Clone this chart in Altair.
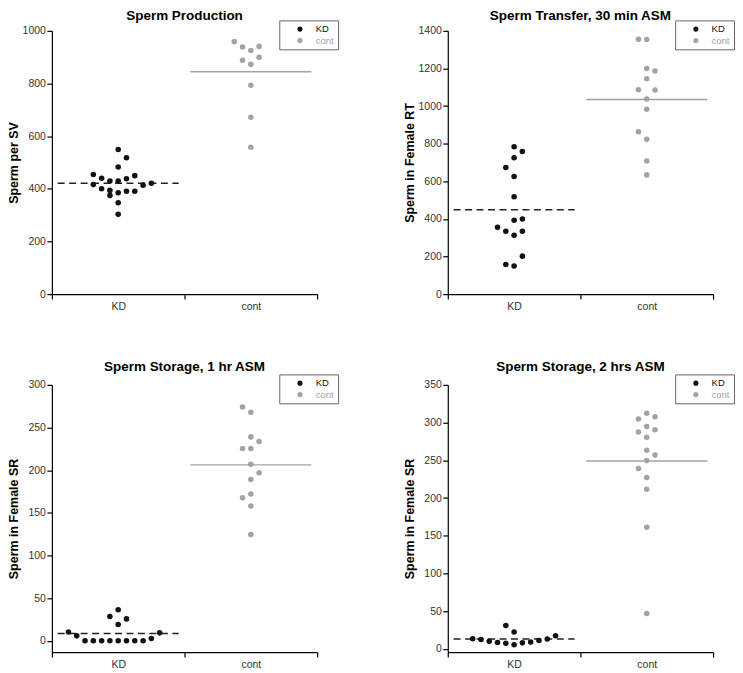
import altair as alt
import pandas as pd

FONT = "Liberation Sans"
GROUPS = ["KD", "cont"]
COLORS = ["#111111", "#a3a3a3"]

# Panel 1: Sperm Production (slot = horizontal dot position in the scatter column)
p1_kd_slot = [0, 1, 0, -3, 2, -2, -1, 0, 1, -3, 3, 4, -2, -1, -1, 0, 1, 2, 0, 0]
p1_kd_val = [549, 518, 483, 454, 450, 440, 430, 430, 438, 416, 414, 421, 400, 394, 375, 385, 391, 391, 347, 303]
p1_ct_slot = [-2, -1, 0, 1, -1, 0, 1, 0, 0, 0]
p1_ct_val = [959, 939, 925, 941, 888, 873, 900, 793, 672, 558]

# Panel 2: Sperm Transfer, 30 min ASM
p2_kd_slot = [0, 1, 0, -1, 0, 0, 0, 1, -2, -1, 0, 1, 1, -1, 0]
p2_kd_val = [784, 758, 725, 673, 625, 518, 393, 400, 355, 334, 313, 334, 202, 158, 150]
p2_ct_slot = [-1, 0, 0, 1, 0, -1, 1, 0, 0, -1, 0, 0, 0]
p2_ct_val = [1355, 1354, 1200, 1187, 1145, 1087, 1085, 1038, 983, 863, 823, 708, 634]

# Panel 3: Sperm Storage, 1 hr ASM
p3_kd_slot = [-6, -5, -4, -3, -2, -1, 0, 1, 2, 3, 4, 5, -1, 0, 1, 0]
p3_kd_val = [10.3, 5.7, 0, 0, 0, 0, 0, 0, 0, 0, 2.7, 9.2, 28.3, 36.3, 25.6, 19.1]
p3_ct_slot = [-1, 0, 0, 1, -1, 0, 0, 1, 0, 0, -1, 0, 0]
p3_ct_val = [274, 268, 239, 233.5, 225.5, 225.5, 207, 197, 189, 172, 167.5, 158, 124.5]

# Panel 4: Sperm Storage, 2 hrs ASM
p4_kd_slot = [-5, -4, -3, -2, -1, 0, 1, 2, 3, 4, 5, -1, 0]
p4_kd_val = [13.5, 12.5, 10, 8.5, 7.5, 5.6, 8, 9, 11, 13.2, 17.3, 31, 22.5]
p4_ct_slot = [0, -1, 1, 0, -1, 1, 0, 0, 1, 0, -1, 0, 0, 0, 0]
p4_ct_val = [312.5, 304.7, 307.8, 294.8, 287.5, 290.5, 280.6, 263.4, 256.9, 249.6, 239.2, 227.2, 211.6, 161.2, 47]

TITLES = ["Sperm Production", "Sperm Transfer, 30 min ASM",
          "Sperm Storage, 1 hr ASM", "Sperm Storage, 2 hrs ASM"]
YTITLES = ["Sperm per SV", "Sperm in Female RT", "Sperm in Female SR", "Sperm in Female SR"]
YDOMAINS = [[0, 1000], [0, 1400], [-13.4, 300], [-4.3, 350]]
YVALUES = [list(range(0, 1001, 200)), list(range(0, 1401, 200)),
           list(range(0, 301, 50)), list(range(0, 351, 50))]


def panel(kd_slot, kd_val, ct_slot, ct_val, title, ytitle, ydomain, yvalues, w, h, toff):
    df = pd.DataFrame({
        "grp": ["KD"] * len(kd_val) + ["cont"] * len(ct_val),
        "slot": kd_slot + ct_slot,
        "value": kd_val + ct_val,
    })
    base = alt.Chart(df)
    x = alt.X("grp:N", sort=GROUPS,
              scale=alt.Scale(domain=GROUPS, paddingInner=0, paddingOuter=0),
              axis=alt.Axis(title=None, labelAngle=0, tickBand="extent"))

    def ypos(field):
        return alt.Y(field, type="quantitative", title=ytitle,
                     scale=alt.Scale(domain=ydomain, nice=False, zero=False),
                     axis=alt.Axis(values=yvalues, title=ytitle, format="d"))

    offscale = alt.Scale(domain=[-8.0, 8.0])
    pts = base.mark_circle(size=31, opacity=1).encode(
        x=x,
        xOffset=alt.XOffset("slot:Q", scale=offscale),
        y=ypos("value"),
        color=alt.Color("grp:N", scale=alt.Scale(domain=GROUPS, range=COLORS),
                        legend=alt.Legend(
                            title=None, orient="none", legendX=w - 38, legendY=-10.5,
                            symbolType="circle", symbolSize=26, symbolStrokeWidth=0,
                            labelFontSize=9.5, labelFont=FONT,
                            labelColor={"expr": "datum.label == 'cont' ? '#a3a3a3' : '#111111'"},
                            strokeColor="#666666", fillColor="#ffffff", padding=4,
                            symbolOffset=12, labelOffset=11, rowPadding=0.5)),
    )

    def mean_line(group, color, dash):
        return base.transform_filter(
            alt.datum.grp == group
        ).transform_aggregate(
            mean="mean(value)", groupby=["grp"]
        ).transform_calculate(
            ends="[-7.3, 7.3]"
        ).transform_flatten(["ends"]).mark_line(
            strokeWidth=1.5, color=color, strokeDash=dash
        ).encode(
            x=x,
            xOffset=alt.XOffset("ends:Q", scale=offscale),
            y=ypos("mean"),
        )

    kd_line = mean_line("KD", "#222222", [7, 4.5])
    ct_line = mean_line("cont", "#a3a3a3", [1, 0])
    return alt.layer(kd_line, ct_line, pts).properties(
        width=w, height=h, title=alt.TitleParams(title, offset=toff)
    )


data = [
    (p1_kd_slot, p1_kd_val, p1_ct_slot, p1_ct_val),
    (p2_kd_slot, p2_kd_val, p2_ct_slot, p2_ct_val),
    (p3_kd_slot, p3_kd_val, p3_ct_slot, p3_ct_val),
    (p4_kd_slot, p4_kd_val, p4_ct_slot, p4_ct_val),
]
WIDTHS = [266, 266, 266, 266]
HEIGHTS = [264, 264, 268, 268]
TOFFS = [-3, -3, 0.5, 0.5]

panels = [
    panel(*data[i], TITLES[i], YTITLES[i], YDOMAINS[i], YVALUES[i], WIDTHS[i], HEIGHTS[i], TOFFS[i])
    for i in range(4)
]

chart = alt.concat(*panels, columns=2, spacing={"row": 48, "column": 65}).resolve_scale(
    color="independent", xOffset="independent"
).resolve_legend(
    color="independent"
).properties(
    padding={"left": 0, "top": 0, "right": 0, "bottom": 0}
).configure(font=FONT).configure_view(stroke=None).configure_axis(
    grid=False, domainColor="#000000", domainWidth=1.2, tickColor="#000000",
    tickWidth=1.2, tickSize=5, labelFontSize=10.5, labelColor="#333333",
    labelFont=FONT, titleFont=FONT,
).configure_axisX(
    labelPadding=2,
).configure_axisY(
    labelPadding=1.5, minExtent=29, maxExtent=29, titleFontSize=12.5,
    titleFontWeight="bold", titleColor="#000000", titlePadding=2,
).configure_title(
    fontSize=13.5, fontWeight="bold", color="#000000", anchor="middle",
    frame="group", font=FONT,
)

chart.save("out.html", embed_options={"renderer": "svg", "actions": False})
